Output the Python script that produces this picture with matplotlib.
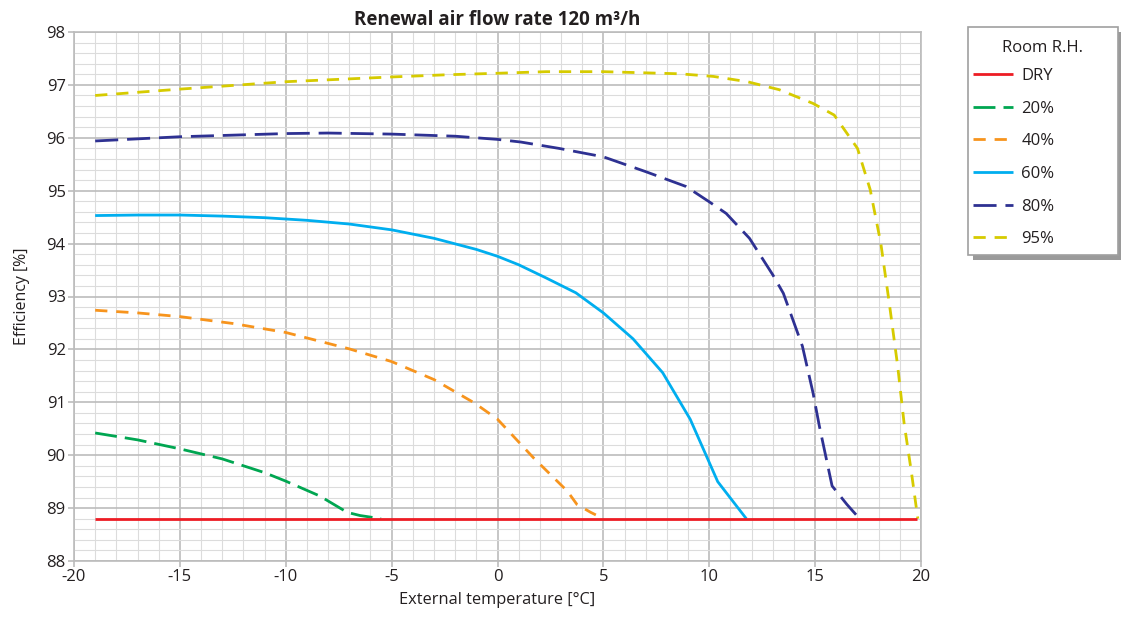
import matplotlib.pyplot as plt
from matplotlib.patches import Rectangle
from matplotlib.ticker import MultipleLocator

plt.rcParams['font.family'] = ['Open Sans', 'DejaVu Sans']
plt.rcParams['axes.unicode_minus'] = False

# %%
# Data
temp_dry = [-19, 19.8]
eff_dry = [88.8, 88.8]

temp_20 = [-19, -17, -15, -13, -11, -10, -8.4, -7.1, -6.5, -5.5]
eff_20 = [90.42, 90.29, 90.12, 89.93, 89.67, 89.51, 89.23, 88.92, 88.86, 88.80]

temp_40 = [-19, -17, -15, -12.5, -10, -7, -5, -3, -1.1, 0, 1.7, 3.3, 3.75, 4.4, 5.0]
eff_40 = [92.74, 92.69, 92.62, 92.49, 92.32, 92.01, 91.77, 91.43, 90.99, 90.68,
          89.95, 89.32, 89.07, 88.92, 88.80]

temp_60 = [-19, -17, -15, -13, -11, -9, -7, -5, -3, -1, 0, 1, 2.3, 3.7, 5, 6.4, 7.8,
           9.1, 10.4, 11.75]
eff_60 = [94.53, 94.54, 94.54, 94.52, 94.49, 94.44, 94.37, 94.26, 94.10, 93.89, 93.76,
          93.60, 93.35, 93.07, 92.69, 92.20, 91.56, 90.68, 89.50, 88.80]

temp_80 = [-19, -15, -10, -8, -5, -2, 0, 1.1, 2.9, 5, 7, 8.9, 10, 10.8, 11.9, 13.0, 13.5,
           14.4, 14.9, 15.2, 15.8, 16.5, 17.1]
eff_80 = [95.94, 96.02, 96.08, 96.09, 96.07, 96.03, 95.97, 95.92, 95.80, 95.64, 95.36,
          95.08, 94.79, 94.57, 94.10, 93.41, 93.06, 92.06, 91.18, 90.55, 89.42, 89.07, 88.80]

temp_95 = [-19, -15, -10, -5, -2.5, 0, 2.3, 5, 8.6, 10.2, 11.8, 13.3, 14.9, 15.9, 17.0,
           17.6, 18.1, 18.5, 18.9, 19.2, 19.55, 19.85]
eff_95 = [96.80, 96.92, 97.06, 97.15, 97.19, 97.22, 97.25, 97.25, 97.21, 97.16, 97.06,
          96.91, 96.65, 96.43, 95.80, 95.02, 94.01, 92.88, 91.68, 90.61, 89.67, 88.80]

series = [
    ("DRY", temp_dry, eff_dry, "#ed1c24", (0, ())),
    ("20%", temp_20, eff_20, "#00a651", (0, (7.9, 2.9))),
    ("40%", temp_40, eff_40, "#f7941d", (0, (4.4, 3.2))),
    ("60%", temp_60, eff_60, "#00aeef", (0, ())),
    ("80%", temp_80, eff_80, "#2e3192", (0, (8.3, 3.2))),
    ("95%", temp_95, eff_95, "#d6cb00", (0, (4.4, 3.2))),
]

# %%
W, H = 1121, 619
fig = plt.figure(figsize=(W / 100, H / 100), dpi=100)
ax = fig.add_axes([74 / W, 1 - 561 / H, (921 - 74) / W, (561 - 32) / H])

handles = []
for label, x, y, color, dash in series:
    z = 5 if label == "DRY" else 3
    (h,) = ax.plot(x, y, color=color, lw=2.0, linestyle=dash, label=label,
                   zorder=z, solid_capstyle="butt", dash_capstyle="butt")
    handles.append(h)

ax.set_xlim(-20, 20)
ax.set_ylim(88, 98)
ax.xaxis.set_major_locator(MultipleLocator(5))
ax.xaxis.set_minor_locator(MultipleLocator(1))
ax.yaxis.set_major_locator(MultipleLocator(1))
ax.yaxis.set_minor_locator(MultipleLocator(0.2))
ax.grid(which="major", color="#bcbcbc", lw=1.2, zorder=1)
ax.grid(which="minor", color="#dcdcdc", lw=0.8, zorder=0)
ax.set_axisbelow(True)
for sp in ax.spines.values():
    sp.set_color("#bcbcbc")
    sp.set_linewidth(1.2)
ax.tick_params(which="major", length=4, width=1.2, color="#bcbcbc",
               labelsize=12, labelcolor="#231f20", pad=2)
ax.tick_params(which="minor", length=0)

ax.set_xlabel("External temperature [°C]", fontsize=11.8, color="#231f20", labelpad=5)
ax.set_ylabel("Efficiency [%]", fontsize=11.5, color="#231f20", labelpad=12)
ax.set_title("Renewal air flow rate 120 m³/h", fontsize=13.5, fontweight="bold",
             color="#231f20", pad=5)

# legend box with drop shadow
fig.patches.append(Rectangle((973 / W, 1 - 260 / H), 150 / W, 228 / H,
                             transform=fig.transFigure, facecolor="#9a9a9a",
                             edgecolor="none", zorder=0))
fig.patches.append(Rectangle((968 / W, 1 - 255 / H), 150 / W, 228 / H,
                             transform=fig.transFigure, facecolor="white",
                             edgecolor="#a0a0a0", lw=1.2, zorder=1))
fig.text(1043 / W, 1 - 48 / H, "Room R.H.", ha="center", va="center",
         fontsize=12, color="#231f20")
fig.legend(handles=handles, loc="upper left", bbox_to_anchor=(973 / W, 1 - 68 / H),
           frameon=False, fontsize=12, borderpad=0, borderaxespad=0,
           handlelength=2.4, handletextpad=0.5, labelspacing=1.0,
           labelcolor="#231f20")

fig.savefig("out.png", dpi=100)
